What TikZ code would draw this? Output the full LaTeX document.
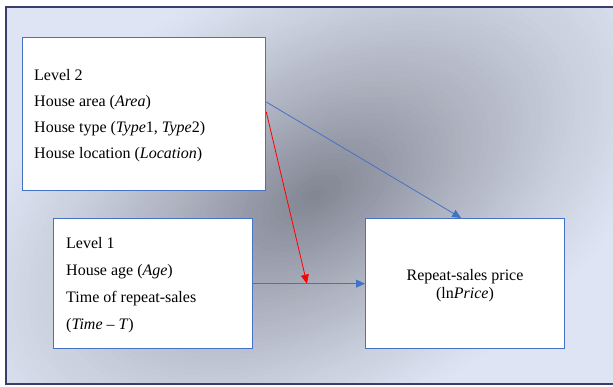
\documentclass[tikz,border=0pt]{standalone}
\usepackage{fontspec}
\setmainfont{Liberation Serif}
\usetikzlibrary{arrows.meta,calc}
\definecolor{bgl}{HTML}{DEE4F3}
\definecolor{bgd}{HTML}{808390}
\definecolor{boxblue}{HTML}{4472C4}
\definecolor{framec}{HTML}{3B3D6B}
\definecolor{redline}{HTML}{FF0000}
\begin{document}
\begin{tikzpicture}[x=1pt,y=-1pt,
  boxst/.style={draw=boxblue, line width=1.3pt, fill=white, rectangle, inner sep=0pt, anchor=north west},
  txt/.style={anchor=base west, inner sep=0pt, font=\fontsize{16}{19}\selectfont},
  ctxt/.style={anchor=base, inner sep=0pt, font=\fontsize{16}{19}\selectfont},
  conn/.style={draw=boxblue, line width=0.8pt, -{Triangle[length=9pt,width=8pt]}},
  redconn/.style={draw=redline, line width=0.8pt, -{Triangle[length=9pt,width=8pt]}}]
\useasboundingbox (0,0) rectangle (613,387);
\fill[white] (0,0) rectangle (613,387);
\begin{scope}
  \clip (6,7) rectangle (613,384);
  \fill[bgl] (6,7) rectangle (613,384);
  \foreach \k in {1,...,56}{
    \pgfmathsetmacro\r{1-(\k-1)/56}
    \pgfmathtruncatemacro\p{100*(1-\r)^1.25}
    \fill[bgd!\p!bgl, rotate around={30:(315,195)}] (315,195) ellipse [x radius=\r*410, y radius=\r*235];
  }
\end{scope}
\begin{scope}
  \clip (0,0) rectangle (613,387);
  \draw[framec, line width=1.5pt] (6,7) rectangle (640,384);
\end{scope}

\node[boxst, minimum width=243pt, minimum height=153pt] (L2) at (22,37) {};
\node[boxst, minimum width=199pt, minimum height=130pt] (L1) at (53,218) {};
\node[boxst, minimum width=199pt, minimum height=130pt] (R) at (365,218) {};

\node[txt] (l2a) at (34,81) {Level 2};
\node[txt] (l2b) at (34,107) {House area (\textit{Area})};
\node[txt] (l2c) at (34,133) {House type (\textit{Type}1, \textit{Type}2)};
\node[txt] (l2d) at (34,159) {House location (\textit{Location})};

\node[txt] (l1a) at (66,249) {Level 1};
\node[txt] (l1b) at (66,276) {House age (\textit{Age})};
\node[txt] (l1c) at (66,302) {Time of repeat-sales};
\node[txt] (l1d) at (66,329) {(\textit{Time} – \textit{T})};

\node[ctxt] (ra) at (465,281) {Repeat-sales price};
\node[ctxt] (rb) at (465,299) {(ln\textit{Price})};

\coordinate (s1) at ([yshift=-65pt]L2.north east);
\coordinate (e1) at ([xshift=-4pt]R.north);
\coordinate (s2) at ([yshift=-75pt]L2.north east);
\coordinate (m) at ($(L1.east)!0.48!(R.west)$);
\draw[conn] (s1) -- (e1);
\draw[conn] (L1.east) -- (R.west);
\draw[redconn] (s2) -- (m);
\end{tikzpicture}
\end{document}
